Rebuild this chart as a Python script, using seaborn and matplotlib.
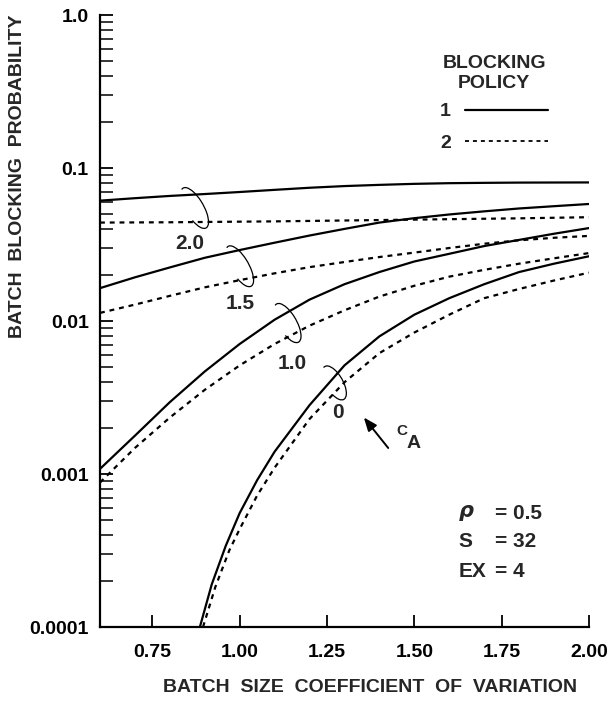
import numpy as np
import pandas as pd
import matplotlib
matplotlib.use("Agg")
import matplotlib.pyplot as plt
import matplotlib.ticker as mticker
from matplotlib.lines import Line2D
from matplotlib.patches import Arc
from matplotlib.transforms import IdentityTransform
import seaborn as sns

# Du lieu doc tu hinh
x_grid = [0.6, 0.7, 0.8, 0.9, 1.0, 1.1, 1.2, 1.3, 1.4, 1.5, 1.6, 1.7, 1.8, 1.9, 2.0]

p1_ca20 = [0.0612, 0.0635, 0.0657, 0.0676, 0.0697, 0.0720, 0.0743, 0.0762,
           0.0776, 0.0788, 0.0796, 0.0800, 0.0803, 0.0804, 0.0805]
p2_ca20 = [0.0440, 0.0441, 0.0442, 0.0444, 0.0446, 0.0448, 0.0451, 0.0454,
           0.0457, 0.0460, 0.0463, 0.0466, 0.0469, 0.0473, 0.0477]

p1_ca15 = [0.0164, 0.0193, 0.0224, 0.0259, 0.0291, 0.0325, 0.0362, 0.0400,
           0.0440, 0.0470, 0.0497, 0.0521, 0.0544, 0.0563, 0.0582]
p2_ca15 = [0.0113, 0.0128, 0.0146, 0.0166, 0.0185, 0.0205, 0.0225, 0.0243,
           0.0262, 0.0280, 0.0300, 0.0320, 0.0337, 0.0350, 0.0360]

p1_ca10 = [0.00108, 0.00178, 0.00295, 0.00468, 0.00708, 0.0102, 0.0138, 0.0174,
           0.0209, 0.0245, 0.0275, 0.0309, 0.0339, 0.0372, 0.0405]
p2_ca10 = [0.00088, 0.00148, 0.00234, 0.00355, 0.00513, 0.00708, 0.00933, 0.01175,
           0.01445, 0.0170, 0.0195, 0.0216, 0.0237, 0.0257, 0.0278]

x_p1_ca0 = [0.886, 0.92, 0.96, 1.0, 1.05, 1.1, 1.2, 1.3, 1.4, 1.5, 1.6, 1.7, 1.8, 1.9, 2.0]
p1_ca0 = [1.0e-4, 1.9e-4, 3.39e-4, 5.56e-4, 9.12e-4, 1.40e-3, 2.82e-3, 5.13e-3,
          7.94e-3, 1.10e-2, 1.41e-2, 1.74e-2, 2.09e-2, 2.37e-2, 2.65e-2]
x_p2_ca0 = [0.895, 0.93, 0.97, 1.0, 1.05, 1.1, 1.2, 1.3, 1.4, 1.5, 1.6, 1.7, 1.8, 1.9, 2.0]
p2_ca0 = [1.0e-4, 1.82e-4, 3.16e-4, 4.37e-4, 7.24e-4, 1.10e-3, 2.29e-3, 3.98e-3,
          6.17e-3, 8.41e-3, 1.10e-2, 1.41e-2, 1.62e-2, 1.84e-2, 2.07e-2]

ca_labels = ["2.0", "1.5", "1.0", "0"]
x_ticks = [0.75, 1.00, 1.25, 1.50, 1.75, 2.00]
y_ticks = [1e-4, 1e-3, 1e-2, 1e-1, 1.0]
y_tick_labels = ["0.0001", "0.001", "0.01", "0.1", "1.0"]

# Gop thanh bang dai
series = [
    ("2.0", "1", x_grid, p1_ca20), ("2.0", "2", x_grid, p2_ca20),
    ("1.5", "1", x_grid, p1_ca15), ("1.5", "2", x_grid, p2_ca15),
    ("1.0", "1", x_grid, p1_ca10), ("1.0", "2", x_grid, p2_ca10),
    ("0", "1", x_p1_ca0, p1_ca0), ("0", "2", x_p2_ca0, p2_ca0),
]
rows = []
for ca, pol, xs, ys in series:
    for xv, yv in zip(xs, ys):
        rows.append({"cv": xv, "prob": yv, "ca": ca, "policy": pol, "key": ca + "_" + pol})
df = pd.DataFrame(rows)

sns.set_style("ticks")
plt.rcParams["font.family"] = ["Liberation Sans", "DejaVu Sans"]
plt.rcParams["font.weight"] = "bold"

fig = plt.figure(figsize=(6.13, 7.05), dpi=100)
ax = fig.add_axes([0.1631, 0.1106, 0.7977, 0.8681])

sns.lineplot(data=df, x="cv", y="prob", style="policy", units="key",
             estimator=None, sort=False, color="black", linewidth=1.6,
             dashes={"1": "", "2": (2.2, 2.2)}, legend=False, ax=ax)

ax.set_yscale("log")
ax.set_xlim(0.6, 2.0)
ax.set_ylim(1e-4, 1.0)

ax.set_xticks(x_ticks)
ax.set_xticklabels([f"{v:.2f}" for v in x_ticks])
ax.yaxis.set_major_locator(mticker.FixedLocator(y_ticks))
ax.yaxis.set_major_formatter(mticker.FixedFormatter(y_tick_labels))
ax.yaxis.set_minor_locator(mticker.LogLocator(base=10, subs=np.arange(2, 10)))
ax.yaxis.set_minor_formatter(mticker.NullFormatter())

ax.tick_params(axis="both", which="major", direction="in", length=9, width=1.3,
               labelsize=14, pad=8, color="black", labelcolor="black")
ax.tick_params(axis="y", which="minor", direction="in", length=9, width=1.3)
ax.tick_params(axis="x", which="major", pad=12)

for s in ["top", "right"]:
    ax.spines[s].set_visible(False)
for s in ["left", "bottom"]:
    ax.spines[s].set_linewidth(1.6)
    ax.spines[s].set_color("black")

ax.set_xlabel("BATCH  SIZE  COEFFICIENT  OF  VARIATION", fontsize=14, fontweight="bold")
ax.set_ylabel("BATCH  BLOCKING  PROBABILITY", fontsize=14, fontweight="bold")
ax.xaxis.set_label_coords(0.552, -0.085)
ax.yaxis.set_label_coords(-0.151, 0.737)

# Chu thich chinh sach
handles = [Line2D([], [], color="black", lw=1.6),
           Line2D([], [], color="black", lw=1.3, dashes=(2.2, 2.2))]
leg = ax.legend(handles, ["1", "2"], title="BLOCKING\nPOLICY", markerfirst=False,
                frameon=False, loc="upper center", bbox_to_anchor=(0.806, 0.963),
                fontsize=14, title_fontsize=14, handlelength=4.3, labelspacing=0.7,
                handletextpad=0.7)
leg.get_title().set_multialignment("center")
leg.get_title().set_fontweight("bold")
leg._legend_box.sep = 8

# Nhan c_A cho tung cap duong
label_pos = [(0.184, 0.627), (0.286, 0.529), (0.393, 0.431), (0.487, 0.350)]
for lab, (lx, ly) in zip(ca_labels, label_pos):
    ax.text(lx, ly, lab, transform=ax.transAxes, fontsize=15, ha="center", va="center")

# Vong cung quanh cap duong
fig.canvas.draw()
arc_centres = [(0.871, 0.0548, 46, 18), (1.0, 0.0228, 46, 18),
               (1.137, 0.0097, 44, 18), (1.271, 0.00394, 38, 17)]
for cx, cy, w, h in arc_centres:
    px, py = ax.transData.transform((cx, cy))
    ax.add_patch(Arc((px, py), w, h, angle=-60, theta1=-40, theta2=185,
                     transform=IdentityTransform(), color="black", lw=0.9,
                     clip_on=False))

# Mui ten c_A
ax.annotate("", xy=(0.536, 0.346), xytext=(0.593, 0.289), xycoords="axes fraction",
            arrowprops=dict(arrowstyle="-|>,head_length=0.8,head_width=0.32",
                            color="black", lw=1.4))
ax.text(0.618, 0.320, "C", transform=ax.transAxes, fontsize=11, ha="center", va="center")
ax.text(0.642, 0.300, "A", transform=ax.transAxes, fontsize=14, ha="center", va="center")

# Thong so
params = [(r"$\rho$", "= 0.5", 0.186), ("S", "= 32", 0.139), ("EX", "= 4", 0.090)]
for left, right, py in params:
    ax.text(0.733, py, left, transform=ax.transAxes, fontsize=15, ha="left", va="center")
    ax.text(0.808, py, right, transform=ax.transAxes, fontsize=15, ha="left", va="center")

fig.savefig("out.png", dpi=100)
